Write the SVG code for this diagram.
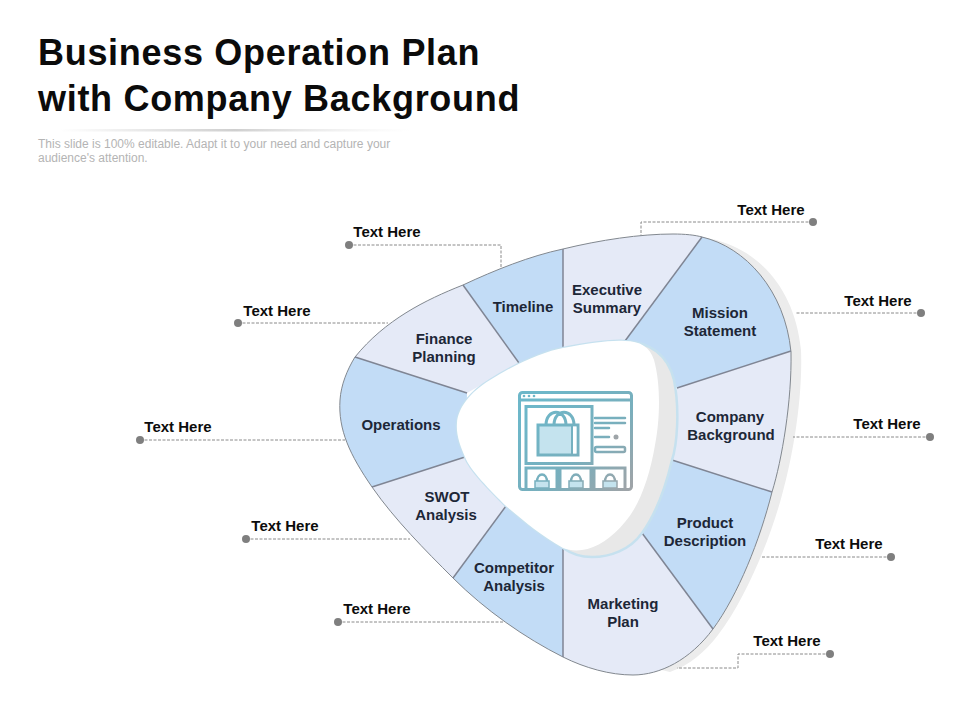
<svg xmlns="http://www.w3.org/2000/svg" width="960" height="720" viewBox="0 0 960 720">
<style>
text{font-family:"Liberation Sans",Arial,sans-serif}
.title{font-size:36px;font-weight:700;fill:#0b0b0b;letter-spacing:.7px}
.sub{font-size:12px;fill:#b4b4b4}
.lbl{font-size:15px;font-weight:700;fill:#1d2737;text-anchor:middle}
.th{font-size:15px;font-weight:700;fill:#0c0c0c;text-anchor:middle}
.blue{fill:#c2dcf6}
.pale{fill:#e5eaf7}
.div{stroke:#7f8594;stroke-width:1.5;fill:none}
.lead{stroke:#8a8a8a;stroke-width:1;stroke-dasharray:3 1.500;fill:none}
.dot{fill:#7f7f7f}
.ic{fill:none;stroke:url(#icon);stroke-width:3}
.icf{fill:#c4e3ee;stroke:url(#icon);stroke-width:3}
.icl{fill:none;stroke:url(#icon);stroke-width:2.5;stroke-linecap:round}
</style>
<defs>
<linearGradient id="rule" x1="0" x2="1" y1="0" y2="0"><stop offset="0" stop-color="#d0d0d0" stop-opacity="0"/><stop offset=".5" stop-color="#cfcfcf"/><stop offset="1" stop-color="#e8e8e8" stop-opacity="0"/></linearGradient>
<linearGradient id="icon" gradientUnits="userSpaceOnUse" x1="540" y1="400" x2="625" y2="490"><stop offset="0" stop-color="#6db7c9"/><stop offset=".55" stop-color="#78afbd"/><stop offset="1" stop-color="#9ea4a8"/></linearGradient>
<clipPath id="ring"><path d="M563,249 C600,240 640,234 673,234 C685,234 695,235 702,237 C745,247 785,290 791,352 C792,400 782,460 772,492 C760,540 738,595 713,629 C690,660 660,675 633,675 C610,675 585,668 563,657 C525,638 485,610 453,578 C425,550 395,520 372,487 C350,455 338,430 340,400 C341,385 347,370 355,357 C385,320 425,300 463,285 C495,270 530,256 563,249 Z"/></clipPath>
</defs>
<rect width="960" height="720" fill="#fff"/>
<text class="title" x="38" y="65">Business Operation Plan</text>
<text class="title" x="38" y="111">with Company Background</text>
<rect x="60" y="129" width="350" height="2.5" fill="url(#rule)"/>
<text class="sub" x="38" y="148">This slide is 100% editable. Adapt it to your need and capture your</text>
<text class="sub" x="38" y="162">audience's attention.</text>

<path d="M712,239 C760,250 795,290 801,350 C803,400 792,460 782,495 C770,540 745,600 718,635 C705,652 690,665 670,672 L620,660 L700,300 Z" fill="#ececec"/>

<g id="connectors">
<path class="lead" d="M813,222 H641 V236"/>
<path class="lead" d="M921,313 H795"/>
<path class="lead" d="M930,437 H793"/>
<path class="lead" d="M891,557 H761"/>
<path class="lead" d="M830,654 H738 V668 H677"/>
<path class="lead" d="M338,622 H503"/>
<path class="lead" d="M246,539 H410"/>
<path class="lead" d="M140,440 H345"/>
<path class="lead" d="M238,323 H388"/>
<path class="lead" d="M349,245 H501 V267"/>
</g>

<g clip-path="url(#ring)">
<polygon id="seg-timeline" class="blue" points="519,363 429,238 563,189 563,349"/>
<polygon id="seg-executive" class="pale" points="563,349 563,189 748,175 625,341"/>
<polygon id="seg-mission" class="blue" points="625,341 748,175 859,329 677,388"/>
<polygon id="seg-company" class="pale" points="677,388 859,329 832,511 672,460"/>
<polygon id="seg-product" class="blue" points="672,460 832,511 756,687 642,533"/>
<polygon id="seg-marketing" class="pale" points="642,533 756,687 563,722 563,548"/>
<polygon id="seg-competitor" class="blue" points="563,548 563,722 421,621 506,506"/>
<polygon id="seg-swot" class="pale" points="506,506 421,621 316,505 465,457"/>
<polygon id="seg-operations" class="blue" points="465,457 316,505 288,335 467,393"/>
<polygon id="seg-finance" class="pale" points="467,393 288,335 429,238 519,363"/>
</g>
<path d="M563,249 C600,240 640,234 673,234 C685,234 695,235 702,237 C745,247 785,290 791,352 C792,400 782,460 772,492 C760,540 738,595 713,629 C690,660 660,675 633,675 C610,675 585,668 563,657 C525,638 485,610 453,578 C425,550 395,520 372,487 C350,455 338,430 340,400 C341,385 347,370 355,357 C385,320 425,300 463,285 C495,270 530,256 563,249 Z" fill="none" stroke="#82888f" stroke-width="1"/>
<g id="dividers">
<path class="div" d="M563,249 V349"/>
<path class="div" d="M702,237 L625,341"/>
<path class="div" d="M791,351 L677,388"/>
<path class="div" d="M772,492 L672,460"/>
<path class="div" d="M713,629 L642,533"/>
<path class="div" d="M563,657 V548"/>
<path class="div" d="M453,578 L506,506"/>
<path class="div" d="M372,487 L465,457"/>
<path class="div" d="M355,357 L467,393"/>
<path class="div" d="M463,285 L519,363"/>
</g>

<g id="hub">
<path d="M457,423 C458,408 470,392 490,380 C515,364 545,351 563,348 C590,343 610,340 625,341 C650,342 668,355 674,380 C680,410 677,445 672,460 C665,490 655,515 642,533 C630,550 610,557 592,557 C578,557 570,553 563,548 C540,535 525,522 506,506 C490,490 470,470 465,457 C460,445 456,435 457,423 Z" fill="#e8e8e8" stroke="#c6e1ef" stroke-width="2.5"/>
<path d="M457,423 C458,408 470,392 490,380 C515,364 545,351 563,348 C590,343 610,340 625,341 C640,341 650,347 654,360 C661,385 660,420 655,445 C650,475 640,505 625,522 C612,538 597,548 582,550 C575,551 568,550 563,548 C540,535 525,522 506,506 C490,490 470,470 465,457 C460,445 456,435 457,423 Z" fill="#fff"/>
</g>

<g id="icon-shop">
<rect class="ic" x="519.500" y="392.500" width="112" height="97" rx="3"/>
<path class="ic" d="M519,400 H632"/>
<g fill="#6db7c9"><circle cx="524" cy="396" r="1.300"/><circle cx="529" cy="396" r="1.300"/><circle cx="534" cy="396" r="1.300"/></g>
<rect class="ic" x="526" y="406.500" width="66" height="57"/>
<rect class="icf" x="538" y="425" width="40" height="30"/>
<path d="M572,425 V455" stroke="url(#icon)" stroke-width="2" fill="none"/>
<rect x="573" y="426.500" width="3.500" height="27" fill="#fff"/>
<path class="ic" d="M546,425 C546,408 566,408 566,425 M554,425 C554,408 574,408 574,425"/>
<path class="icl" d="M595,418 H625 M595,423 H625 M595,428 H609 M595,437 H609"/>
<circle cx="616" cy="437" r="2.500" fill="#9ea4a8"/>
<rect x="595" y="447" width="30" height="5" rx="1.500" fill="none" stroke="url(#icon)" stroke-width="2.500"/>
<path class="ic" d="M526,490 V468 H557 V490 M560,490 V468 H591 V490 M594,490 V468 H625 V490"/>
<path class="icl" d="M537,482 C537,472 547,472 547,482 M571,482 C571,472 581,472 581,482 M605,482 C605,472 615,472 615,482"/>
<rect x="535" y="481" width="14" height="7" fill="#c4e3ee" stroke="url(#icon)" stroke-width="1.500"/>
<rect x="569" y="481" width="14" height="7" fill="#c4e3ee" stroke="url(#icon)" stroke-width="1.500"/>
<rect x="603" y="481" width="14" height="7" fill="#c4e3ee" stroke="url(#icon)" stroke-width="1.500"/>
</g>

<g id="node-timeline"><text class="lbl" x="523" y="312">Timeline</text></g>
<g id="node-executive"><text class="lbl" x="607" y="295">Executive</text><text class="lbl" x="607" y="313">Summary</text></g>
<g id="node-mission"><text class="lbl" x="720" y="318">Mission</text><text class="lbl" x="720" y="336">Statement</text></g>
<g id="node-company"><text class="lbl" x="730" y="422">Company</text><text class="lbl" x="731" y="440">Background</text></g>
<g id="node-product"><text class="lbl" x="705" y="528">Product</text><text class="lbl" x="705" y="546">Description</text></g>
<g id="node-marketing"><text class="lbl" x="623" y="609">Marketing</text><text class="lbl" x="623" y="627">Plan</text></g>
<g id="node-competitor"><text class="lbl" x="514" y="573">Competitor</text><text class="lbl" x="514" y="591">Analysis</text></g>
<g id="node-swot"><text class="lbl" x="447" y="502">SWOT</text><text class="lbl" x="446" y="520">Analysis</text></g>
<g id="node-operations"><text class="lbl" x="401" y="430">Operations</text></g>
<g id="node-finance"><text class="lbl" x="444" y="344">Finance</text><text class="lbl" x="444" y="362">Planning</text></g>

<g id="callout-1"><text class="th" x="771" y="215">Text Here</text><circle class="dot" cx="813" cy="222" r="4"/></g>
<g id="callout-2"><text class="th" x="878" y="306">Text Here</text><circle class="dot" cx="921" cy="313" r="4"/></g>
<g id="callout-3"><text class="th" x="887" y="429">Text Here</text><circle class="dot" cx="930" cy="437" r="4"/></g>
<g id="callout-4"><text class="th" x="849" y="549">Text Here</text><circle class="dot" cx="891" cy="557" r="4"/></g>
<g id="callout-5"><text class="th" x="787" y="646">Text Here</text><circle class="dot" cx="830" cy="654" r="4"/></g>
<g id="callout-6"><text class="th" x="377" y="614">Text Here</text><circle class="dot" cx="338" cy="622" r="4"/></g>
<g id="callout-7"><text class="th" x="285" y="531">Text Here</text><circle class="dot" cx="246" cy="539" r="4"/></g>
<g id="callout-8"><text class="th" x="178" y="432">Text Here</text><circle class="dot" cx="140" cy="440" r="4"/></g>
<g id="callout-9"><text class="th" x="277" y="316">Text Here</text><circle class="dot" cx="238" cy="323" r="4"/></g>
<g id="callout-10"><text class="th" x="387" y="237">Text Here</text><circle class="dot" cx="349" cy="245" r="4"/></g>
</svg>
